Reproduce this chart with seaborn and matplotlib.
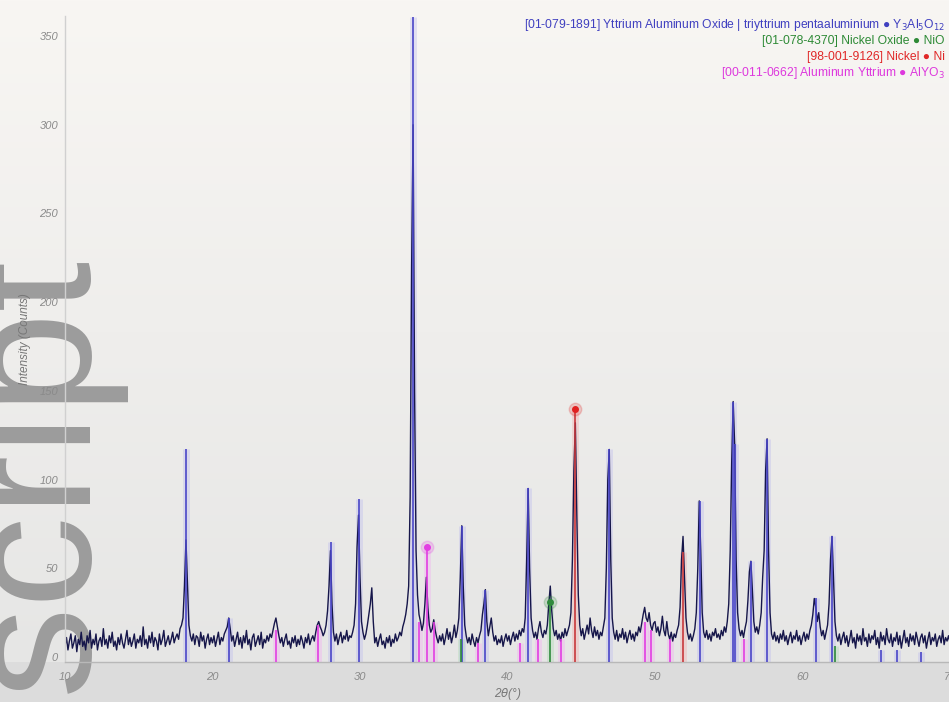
import numpy as np
import pandas as pd
import matplotlib
matplotlib.use("Agg")
import matplotlib.pyplot as plt
from matplotlib.ticker import MultipleLocator
import seaborn as sns

# ---------------- data ----------------
two_theta_start = 10.0
two_theta_step = 0.1

y_10_20 = [6, 11, 4, 9, 13, 5, 8, 12, 3, 10,
           7, 14, 6, 9, 4, 12, 8, 15, 5, 10,
           7, 13, 4, 9, 11, 6, 16, 7, 10, 5,
           12, 8, 14, 6, 9, 4, 11, 7, 13, 8,
           5, 10, 15, 7, 11, 6, 9, 13, 5, 10,
           8, 12, 6, 17, 7, 10, 5, 12, 8, 14,
           6, 11, 9, 4, 13, 7, 10, 15, 6, 9,
           12, 7, 10, 14, 8, 11, 13, 10, 16, 18,
           22, 40, 66, 42, 18, 12, 9, 13, 7, 12,
           11, 6, 14, 9, 12, 5, 10, 13, 7, 11]
y_20_30 = [8, 12, 6, 10, 14, 7, 11, 9, 13, 15,
           17, 22, 16, 9, 12, 6, 10, 14, 7, 11,
           5, 12, 8, 15, 7, 10, 4, 11, 13, 6,
           9, 12, 7, 14, 5, 10, 8, 12, 9, 13,
           11, 15, 19, 22, 17, 12, 8, 11, 6, 10,
           13, 7, 9, 5, 11, 8, 12, 6, 10, 7,
           12, 9, 5, 11, 8, 13, 7, 10, 12, 9,
           14, 18, 20, 17, 15, 12, 14, 18, 26, 40,
           60, 30, 14, 9, 13, 7, 11, 14, 8, 12,
           10, 15, 9, 12, 11, 14, 18, 30, 62, 80]
y_30_40 = [45, 20, 14, 10, 13, 18, 24, 30, 39, 20,
           8, 11, 6, 10, 13, 7, 9, 5, 11, 8,
           12, 6, 10, 8, 13, 9, 11, 14, 12, 17,
           20, 24, 30, 40, 90, 220, 300, 150, 60, 35,
           24, 20, 15, 19, 30, 45, 28, 18, 14, 16,
           21, 15, 11, 8, 12, 9, 13, 7, 11, 16,
           10, 14, 8, 12, 18, 11, 15, 22, 45, 74,
           40, 18, 12, 8, 11, 7, 13, 9, 6, 11,
           8, 12, 15, 24, 30, 38, 20, 12, 17, 22,
           14, 9, 12, 7, 10, 8, 12, 6, 10, 13]
y_40_50 = [9, 12, 7, 11, 14, 9, 13, 10, 15, 12,
           16, 14, 22, 55, 95, 50, 22, 15, 11, 14,
           10, 16, 20, 14, 11, 15, 13, 18, 30, 40,
           26, 16, 12, 15, 10, 13, 9, 14, 11, 16,
           12, 15, 18, 25, 55, 105, 132, 80, 35, 18,
           12, 16, 10, 14, 18, 13, 22, 15, 11, 17,
           12, 15, 10, 14, 12, 17, 22, 50, 100, 117,
           55, 22, 14, 10, 15, 9, 13, 11, 16, 10,
           14, 8, 12, 15, 10, 13, 9, 14, 12, 17,
           14, 19, 24, 28, 22, 20, 25, 18, 15, 19]
y_50_60 = [20, 14, 17, 12, 16, 23, 15, 12, 20, 13,
           10, 14, 9, 13, 11, 15, 18, 28, 55, 68,
           45, 22, 14, 10, 13, 9, 12, 16, 25, 50,
           88, 60, 25, 14, 11, 15, 10, 13, 9, 14,
           12, 16, 11, 13, 10, 15, 12, 17, 14, 20,
           30, 60, 110, 144, 120, 55, 25, 16, 12, 15,
           11, 16, 20, 32, 48, 54, 38, 20, 14, 17,
           13, 18, 25, 45, 60, 105, 123, 60, 25, 13,
           10, 14, 9, 12, 8, 13, 10, 15, 9, 12,
           7, 11, 14, 8, 12, 10, 15, 9, 12, 7]
y_60_70 = [11, 14, 9, 13, 10, 15, 18, 24, 33, 28,
           20, 25, 17, 12, 15, 10, 14, 18, 30, 55,
           68, 45, 20, 12, 9, 13, 7, 11, 14, 8,
           12, 6, 10, 15, 8, 11, 5, 13, 9, 12,
           7, 16, 9, 11, 6, 13, 8, 12, 10, 15,
           7, 11, 5, 14, 9, 12, 7, 16, 10, 8,
           13, 6, 11, 9, 14, 7, 12, 5, 10, 15,
           8, 11, 6, 13, 9, 12, 7, 14, 10, 6,
           11, 13, 8, 12, 5, 10, 14, 7, 11, 9,
           13, 6, 10, 12, 8, 15, 7, 11, 9, 12, 8]

# reference patterns: stick positions (2theta) and heights (counts)
yag_pos = [18.2, 21.1, 28.0, 29.9, 33.6, 36.9, 38.5, 41.4, 46.9, 53.05,
           55.3, 55.4, 56.5, 57.6, 60.9, 62.0, 65.3, 66.4, 68.0]
yag_hgt = [117, 22, 65, 89, 361, 74, 38, 95, 117, 88,
           144, 120, 54, 123, 33, 68, 4, 4, 3]
nio_pos = [36.85, 42.9, 62.2]
nio_hgt = [10, 31, 6]
ni_pos = [44.58, 51.9]
ni_hgt = [140, 59]
alyo_pos = [24.3, 27.15, 34.0, 34.54, 35.0, 38.0, 40.85, 42.1, 43.6,
            49.3, 49.7, 51.0, 56.0]
alyo_hgt = [15, 18, 20, 62, 20, 8, 8, 10, 10, 20, 15, 10, 10]

phase_labels = ["[01-079-1891] Yttrium Aluminum Oxide | triyttrium pentaaluminium",
                "[01-078-4370] Nickel Oxide",
                "[98-001-9126] Nickel",
                "[00-011-0662] Aluminum Yttrium"]
phase_formulas = [r"Y$_3$Al$_5$O$_{12}$", "NiO", "Ni", r"AlYO$_3$"]
x_ticks = [10, 20, 30, 40, 50, 60, 70]
y_ticks = [0, 50, 100, 150, 200, 250, 300, 350]

# ---------------- build table ----------------
counts = y_10_20 + y_20_30 + y_30_40 + y_40_50 + y_50_60 + y_60_70
two_theta = [round(two_theta_start + two_theta_step * i, 2) for i in range(len(counts))]
df = pd.DataFrame({"two_theta": two_theta, "counts": counts})

# ---------------- styling ----------------
sns.set_theme(style="white")
plt.rcParams['font.family'] = ['Liberation Sans', 'DejaVu Sans']

W, H = 949, 702
fig = plt.figure(figsize=(W / 100, H / 100), dpi=100)

# background gradient
bg = fig.add_axes([0, 0, 1, 1], zorder=-10)
grad = np.ones((H, 1, 3))
top = np.array([0xf8, 0xf6, 0xf3]) / 255
mid = np.array([0xe6, 0xe6, 0xe5]) / 255
low = np.array([0xdc, 0xdc, 0xdc]) / 255
for r in range(H):
    if r < 662:
        t = r / 662
        grad[r, 0] = top * (1 - t) + mid * t
    else:
        grad[r, 0] = low
bg.imshow(grad, aspect='auto', extent=[0, 1, 0, 1])
bg.axis('off')
# watermark, drawn behind the chart texts
bg.text(38 / W, 1 - 255 / H, "script", rotation=90, fontsize=132, color="#9c9c9c",
        ha='center', va='top', transform=bg.transAxes)

ax = fig.add_axes([65 / W, 1 - 662 / H, 885 / W, (662 - 16) / H])
ax.set_facecolor('none')

# reference sticks (glow + line)
def sticks(pos, hgt, color, glow):
    ax.vlines(pos, -3, hgt, colors=glow, linewidth=5, alpha=0.35, zorder=1)
    ax.vlines(pos, -3, hgt, colors=color, linewidth=1.2, zorder=3)

sticks(alyo_pos, alyo_hgt, "#e23ee2", "#f2a8f2")
sticks(yag_pos, yag_hgt, "#4a46c8", "#b8b6ee")
sticks(nio_pos, nio_hgt, "#2f8a3c", "#a8d8b0")
sticks(ni_pos, ni_hgt, "#c8383c", "#f2a8a8")

sns.lineplot(data=df, x="two_theta", y="counts", ax=ax, color="#16164a",
             linewidth=1.0, zorder=2, estimator=None, sort=False)

# main markers
for xx, yy, c in [(34.54, 62, "#e23ee2"), (44.58, 140, "#e02020"), (42.9, 31, "#2f8a3c")]:
    ax.plot([xx], [yy], 'o', ms=9, color=c, alpha=0.2, zorder=4)
    ax.plot([xx], [yy], 'o', ms=4, color=c, zorder=5)

ax.set_xlim(10, 69.95)
ax.set_ylim(-2.8, 361.3)
ax.set_xticks(x_ticks)
ax.set_yticks(y_ticks)
ax.xaxis.set_minor_locator(MultipleLocator(2))
ax.tick_params(axis='both', which='major', direction='out', length=3, width=0.8,
               color="#b0b0b0", labelcolor="#8a8a8a", labelsize=8)
ax.tick_params(axis='x', which='minor', direction='out', length=2, width=0.6,
               color="#c0c0c0")
ax.tick_params(axis='x', pad=4)
ax.tick_params(axis='y', pad=2)
for lab in ax.get_xticklabels() + ax.get_yticklabels():
    lab.set_fontstyle('italic')
for s in ["top", "right"]:
    ax.spines[s].set_visible(False)
ax.spines["left"].set_color("#d0d0d0")
ax.spines["bottom"].set_color("#b8b8b8")
ax.spines["left"].set_linewidth(1.0)
ax.spines["bottom"].set_linewidth(1.0)
ax.set_xlabel(r"2$\theta$(°)", fontsize=8.5, color="#777777", style='italic', labelpad=3)
ax.set_ylabel("Intensity (Counts)", fontsize=8.5, color="#777777", style='italic', labelpad=6)

# phase legend text (top right)
colors = ["#4040c0", "#2e8a36", "#e02828", "#dd38dd"]
for i, (lab, form, c) in enumerate(zip(phase_labels, phase_formulas, colors)):
    fig.text(945 / W, 1 - (25 + 16 * i) / H, f"{lab} \u25cf {form}", color=c,
             fontsize=8.7, ha='right', va='center')

fig.savefig("out.png", dpi=100)
